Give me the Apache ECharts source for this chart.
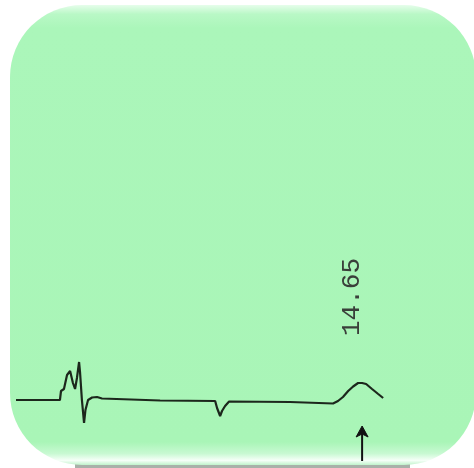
<!DOCTYPE html>
<html>
<head>
<meta charset="utf-8">
<script src="https://cdn.jsdelivr.net/npm/echarts@6/dist/echarts.min.js"></script>
<style>
html,body{margin:0;padding:0;background:#ffffff;}
#chart{width:474px;height:468px;}
</style>
</head>
<body>
<div id="chart"></div>
<script>
// Retention time (min) and detector signal (arbitrary units)
var times = [0, 1.86, 1.905, 2.03, 2.16, 2.29, 2.41, 2.50, 2.58, 2.67, 2.71, 2.79, 2.88, 2.94, 3.05, 3.22, 3.43, 3.64, 6.10, 8.43, 8.51, 8.64, 8.72, 8.85, 9.02, 11.6, 13.42, 13.63, 13.84, 14.06, 14.27, 14.48, 14.65, 14.82, 15.07, 15.33, 15.54];
var signal = [0, 0, 0.9, 1.1, 2.5, 2.9, 1.7, 1.1, 2.2, 3.8, 2.8, 0, -2.3, -1.0, 0, 0.25, 0.3, 0.15, -0.05, -0.1, -0.8, -1.6, -1.1, -0.6, -0.15, -0.2, -0.35, -0.1, 0.3, 0.9, 1.35, 1.7, 1.7, 1.6, 1.1, 0.6, 0.2];
var peakLabels = ["14.65"];
var peakTimes = [14.65];

var data = times.map(function (t, i) { return [t, signal[i]]; });

var chart = echarts.init(document.getElementById('chart'), null, {renderer: 'canvas'});

var bgElements = [
  {
    type: 'rect', z: -10,
    shape: {x: 10, y: 5, width: 466, height: 460, r: 72},
    style: {
      fill: new echarts.graphic.LinearGradient(0, 0, 0, 1, [
        {offset: 0, color: '#e6fdeb'},
        {offset: 0.02, color: '#b9f8c6'},
        {offset: 0.05, color: '#abf6ba'},
        {offset: 0.95, color: '#a9f5b7'},
        {offset: 0.975, color: '#c8f9d2'},
        {offset: 0.99, color: '#f6fff8'},
        {offset: 1, color: '#c0f3cb'}
      ])
    }
  },
  {
    type: 'rect', z: -11,
    shape: {x: 75, y: 464, width: 335, height: 4},
    style: {fill: '#a9b1a9'}
  }
];

chart.setOption({
  animation: false,
  backgroundColor: '#ffffff',
  graphic: bgElements,
  grid: {left: 16, right: 80, top: 350, bottom: 38},
  xAxis: {type: 'value', min: 0, max: 16, show: false},
  yAxis: {type: 'value', min: -3, max: 5, show: false},
  series: [{
    type: 'line',
    data: data,
    showSymbol: false,
    symbol: 'none',
    smooth: false,
    clip: false,
    lineStyle: {color: '#1c271c', width: 2.2}
  }]
});

var extra = bgElements.slice();
peakTimes.forEach(function (t, i) {
  var p = chart.convertToPixel({gridIndex: 0}, [t, 0]);
  var x = p[0];
  extra.push({
    type: 'text', z: 10,
    x: x - 10, y: 297,
    rotation: Math.PI / 2,
    style: {
      text: peakLabels[i],
      font: '26px "Liberation Mono", "DejaVu Sans Mono", monospace',
      fill: '#3a3f3a',
      align: 'center',
      verticalAlign: 'middle'
    }
  });
  extra.push({
    type: 'line', z: 10,
    shape: {x1: x, y1: 434, x2: x, y2: 461},
    style: {stroke: '#111111', lineWidth: 2}
  });
  extra.push({
    type: 'polygon', z: 10,
    shape: {points: [[x, 426], [x - 6, 437], [x, 434], [x + 6, 437]]},
    style: {fill: '#111111', stroke: '#111111', lineWidth: 1}
  });
});
chart.setOption({graphic: extra}, {replaceMerge: ['graphic']});
</script>
</body>
</html>
